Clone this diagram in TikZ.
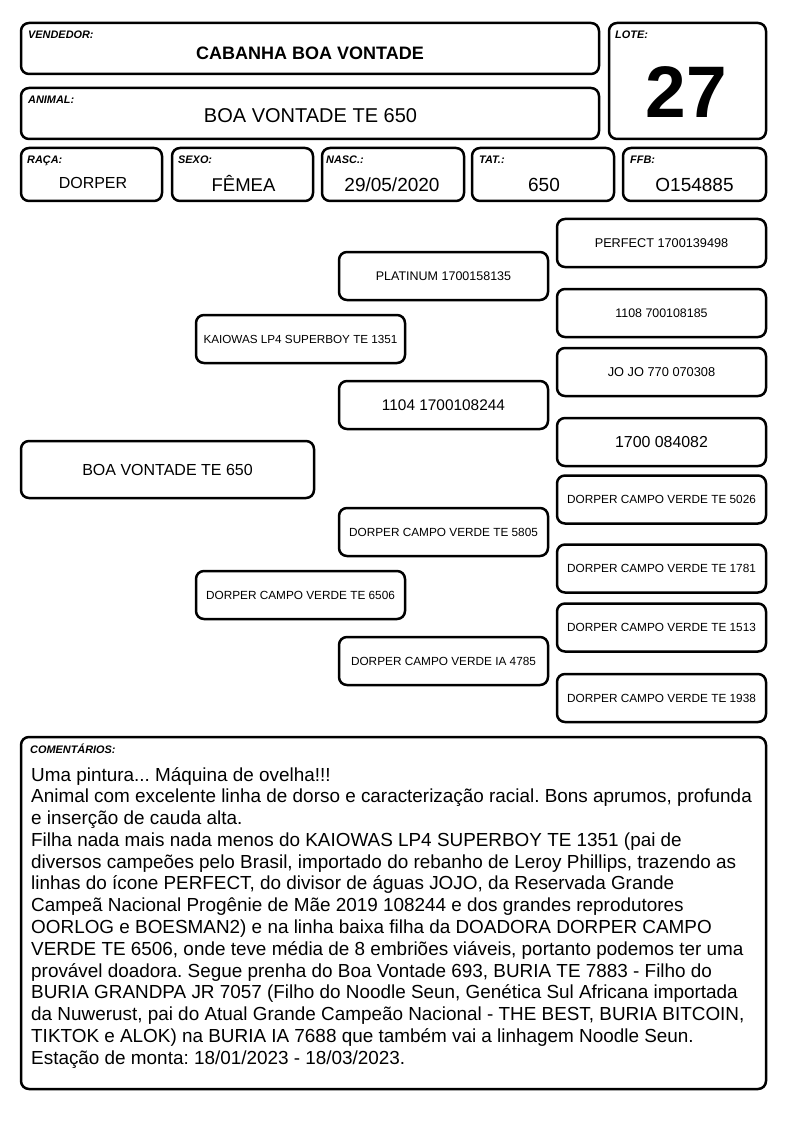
\documentclass[tikz,border=0pt]{standalone}
\usepackage{fontspec}
\setmainfont{Liberation Sans}
\newcommand{\fs}[1]{\fontsize{#1}{#1}\selectfont}
\frenchspacing
\begin{document}
\begin{tikzpicture}[x=1pt,y=-1pt]
	\tikzstyle{b} = [draw, line width=2.5pt, rounded corners=8pt, inner sep=0pt]
	\tikzstyle{p} = [b, minimum width=209pt, minimum height=48pt]
	\tikzstyle{t} = [anchor=base west, inner sep=0pt, font=\fs{10.9}\bfseries\itshape]
	\tikzstyle{v} = [anchor=base, inner sep=0pt]
	\useasboundingbox (0,0) rectangle (794,1123);
	% header
	\node[b, minimum width=578pt, minimum height=51pt] (vendedor) at (310,48.5) {};
	\node[t] (vendedor-t) at (28,39) {VENDEDOR:};
	\node[v, font=\fs{18}\bfseries] (vendedor-v) at (310,59.5) {CABANHA BOA VONTADE};
	\node[b, minimum width=578pt, minimum height=51pt] (animal) at (310,113.5) {};
	\node[t] (animal-t) at (28,103.5) {ANIMAL:};
	\node[v, font=\fs{20}] (animal-v) at (310.5,123) {BOA VONTADE TE 650};
	\node[b, minimum width=157pt, minimum height=116pt] (lote) at (687.5,81) {};
	\node[t] (lote-t) at (615,39) {LOTE:};
	\node[v, font=\fs{73}\bfseries] (lote-v) at (686.5,118) {27};
	\node[b, minimum width=141pt, minimum height=53pt] (raca) at (91.5,174.5) {};
	\node[t] (raca-t) at (27,163.5) {RAÇA:};
	\node[v, font=\fs{16}] (raca-v) at (93,188.5) {DORPER};
	\node[b, minimum width=141pt, minimum height=53pt] (sexo) at (242.5,174.5) {};
	\node[t] (sexo-t) at (178,163.5) {SEXO:};
	\node[v, font=\fs{18.5}] (sexo-v) at (243.5,191.5) {FÊMEA};
	\node[b, minimum width=142pt, minimum height=53pt] (nasc) at (393,174.5) {};
	\node[t] (nasc-t) at (326,163.5) {NASC.:};
	\node[v, font=\fs{19}] (nasc-v) at (392,191.5) {29/05/2020};
	\node[b, minimum width=142pt, minimum height=53pt] (tat) at (543,174.5) {};
	\node[t] (tat-t) at (479,163.5) {TAT.:};
	\node[v, font=\fs{19}] (tat-v) at (544,191.5) {650};
	\node[b, minimum width=143pt, minimum height=53pt] (ffb) at (694.5,174.5) {};
	\node[t] (ffb-t) at (630,163.5) {FFB:};
	\node[v, font=\fs{19}] (ffb-v) at (694.5,191.5) {O154885};
	% pedigree
	\node[b, minimum width=293pt, minimum height=57pt, font=\fs{16}] (animal-0) at (167.5,469.5) {BOA VONTADE TE 650};
	\node[p, font=\fs{11.7}] (pai) at (300.5,339) {KAIOWAS LP4 SUPERBOY TE 1351};
	\node[p, font=\fs{11.8}] (mae) at (300.5,595) {DORPER CAMPO VERDE TE 6506};
	\node[p, font=\fs{12.5}] (pai-pai) at (443.5,276) {PLATINUM 1700158135};
	\node[p, font=\fs{15.4}] (pai-mae) at (443.5,405) {1104 1700108244};
	\node[p, font=\fs{11.8}] (mae-pai) at (443.5,532) {DORPER CAMPO VERDE TE 5805};
	\node[p, font=\fs{11.8}] (mae-mae) at (443.5,661) {DORPER CAMPO VERDE IA 4785};
	\node[p, font=\fs{12.7}] (pai-pai-pai) at (661.5,243) {PERFECT 1700139498};
	\node[p, font=\fs{12.4}] (pai-pai-mae) at (661.5,313) {1108 700108185};
	\node[p, font=\fs{12.8}] (pai-mae-pai) at (661.5,372) {JO JO 770 070308};
	\node[p, font=\fs{15.9}] (pai-mae-mae) at (661.5,442) {1700 084082};
	\node[p, font=\fs{11.8}] (mae-pai-pai) at (661.5,499.5) {DORPER CAMPO VERDE TE 5026};
	\node[p, font=\fs{11.8}] (mae-pai-mae) at (661.5,568.5) {DORPER CAMPO VERDE TE 1781};
	\node[p, font=\fs{11.8}] (mae-mae-pai) at (661.5,627.5) {DORPER CAMPO VERDE TE 1513};
	\node[p, font=\fs{11.8}] (mae-mae-mae) at (661.5,698) {DORPER CAMPO VERDE TE 1938};
	% comments
	\node[b, minimum width=745pt, minimum height=352pt] (comentarios) at (393.5,913) {};
	\node[t] (comentarios-t) at (30,753) {COMENTÁRIOS:};
	\node[anchor=north west, inner sep=0pt, align=left, font=\fontsize{18.9}{21.77}\selectfont] (comentarios-v) at (31,767) {%
		Uma pintura... Máquina de ovelha!!!\\
		Animal com excelente linha de dorso e caracterização racial. Bons aprumos, profunda\\
		e inserção de cauda alta.\\
		Filha nada mais nada menos do KAIOWAS LP4 SUPERBOY TE 1351 (pai de\\
		diversos campeões pelo Brasil, importado do rebanho de Leroy Phillips, trazendo as\\
		linhas do ícone PERFECT, do divisor de águas JOJO, da Reservada Grande\\
		Campeã Nacional Progênie de Mãe 2019 108244 e dos grandes reprodutores\\
		OORLOG e BOESMAN2) e na linha baixa filha da DOADORA DORPER CAMPO\\
		VERDE TE 6506, onde teve média de 8 embriões viáveis, portanto podemos ter uma\\
		provável doadora. Segue prenha do Boa Vontade 693, BURIA TE 7883 - Filho do\\
		BURIA GRANDPA JR 7057 (Filho do Noodle Seun, Genética Sul Africana importada\\
		da Nuwerust, pai do Atual Grande Campeão Nacional - THE BEST, BURIA BITCOIN,\\
		TIKTOK e ALOK) na BURIA IA 7688 que também vai a linhagem Noodle Seun.\\
		Estação de monta: 18/01/2023 - 18/03/2023.};
\end{tikzpicture}
\end{document}
